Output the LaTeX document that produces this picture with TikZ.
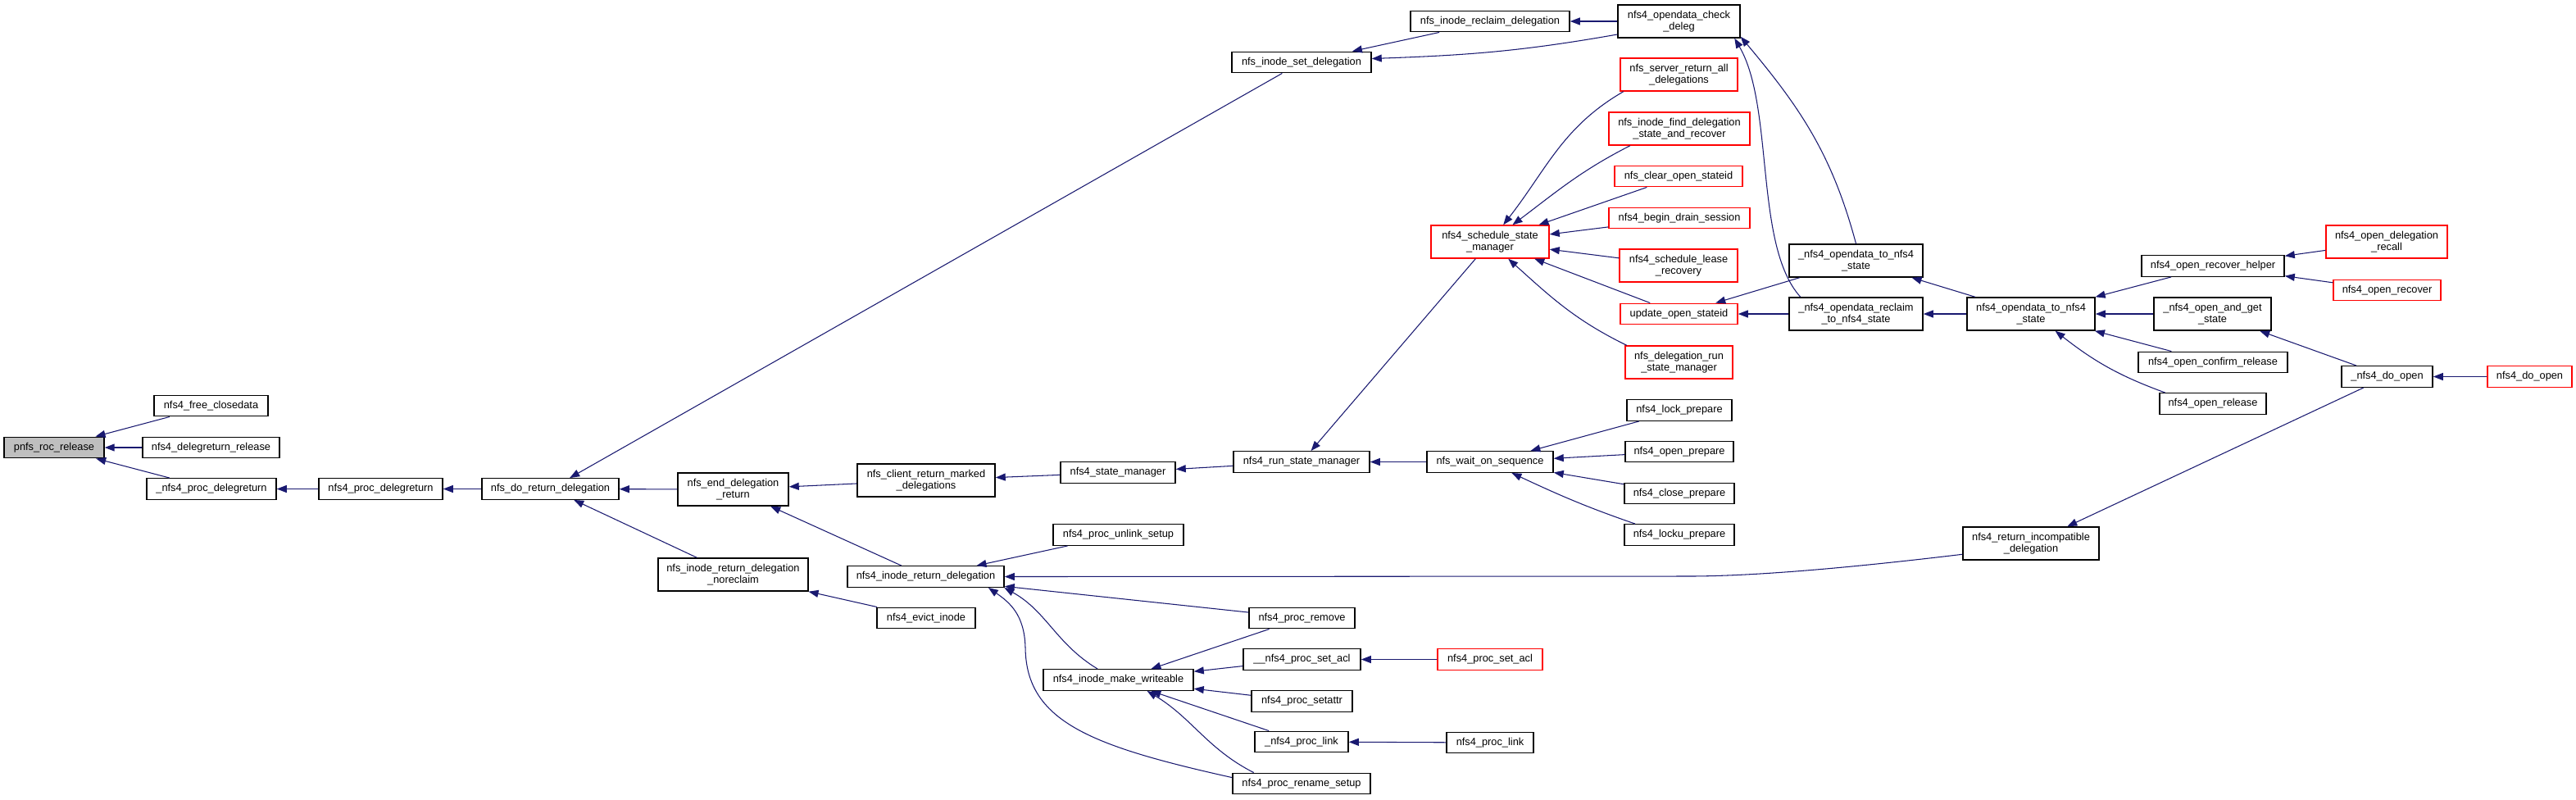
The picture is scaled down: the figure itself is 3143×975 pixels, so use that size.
\documentclass[tikz,border=0pt]{standalone}
\usepackage{fontspec}
\setmainfont{Liberation Sans}
\usetikzlibrary{arrows.meta}

\definecolor{edgeblue}{HTML}{191970}
\definecolor{hotred}{HTML}{FF0000}
\definecolor{rootgray}{HTML}{BFBFBF}

\begin{document}
\begin{tikzpicture}[x=0.01cm, y=-0.01cm, >={Triangle[length=0.12cm,width=0.09cm]},
  fn/.style={draw=black, line width=0.4pt, fill=white, inner sep=0pt, align=center,
    minimum height=0.255cm, font=\fontsize{3.64}{4}\selectfont},
  fn2/.style={fn, minimum height=0.40cm},
  hot/.style={draw=hotred},
  root/.style={fill=rootgray},
  call/.style={->, draw=edgeblue, line width=0.3pt}]

\useasboundingbox (0,0) rectangle (3143,975);

% Function being documented
\node[fn, root, minimum width=1.22cm] (rocrel) at (66,546) {pnfs\_roc\_release};

% Direct callers
\node[fn, minimum width=1.39cm] (freeclose) at (257.5,495) {nfs4\_free\_closedata};
\node[fn, minimum width=1.67cm] (delegrel) at (257.5,546) {nfs4\_delegreturn\_release};
\node[fn, minimum width=1.58cm] (uprocdeleg) at (258,596.5) {\_nfs4\_proc\_delegreturn};
\node[fn, minimum width=1.51cm] (procdeleg) at (464.5,596.5) {nfs4\_proc\_delegreturn};
\node[fn, minimum width=1.67cm] (doreturn) at (671.5,596.5) {nfs\_do\_return\_delegation};

% Delegation return layer
\node[fn2, minimum width=1.35cm] (enddeleg) at (894.5,597) {nfs\_end\_delegation\\\_return};
\node[fn2, minimum width=1.83cm] (noreclaim) at (894.5,701) {nfs\_inode\_return\_delegation\\\_noreclaim};
\node[fn2, minimum width=1.68cm] (marked) at (1130,586) {nfs\_client\_return\_marked\\\_delegations};
\node[fn, minimum width=1.91cm] (inoderet) at (1129.5,703.5) {nfs4\_inode\_return\_delegation};
\node[fn, minimum width=1.20cm] (evict) at (1130,754) {nfs4\_evict\_inode};
\node[fn, minimum width=1.40cm] (statemgr) at (1364,576.5) {nfs4\_state\_manager};
\node[fn, minimum width=1.59cm] (unlink) at (1364.5,652.5) {nfs4\_proc\_unlink\_setup};
\node[fn, minimum width=1.83cm] (writeable) at (1364.5,829.5) {nfs4\_inode\_make\_writeable};

% Middle column
\node[fn, minimum width=1.70cm] (setdeleg) at (1588,76) {nfs\_inode\_set\_delegation};
\node[fn, minimum width=1.66cm] (runmgr) at (1588,563.5) {nfs4\_run\_state\_manager};
\node[fn, minimum width=1.29cm] (remove) at (1588.5,754) {nfs4\_proc\_remove};
\node[fn, minimum width=1.43cm] (usetacl) at (1588.5,804.5) {\_\_nfs4\_proc\_set\_acl};
\node[fn, minimum width=1.23cm] (setattr) at (1588.5,855.5) {nfs4\_proc\_setattr};
\node[fn, minimum width=1.14cm] (ulink) at (1588,905) {\_nfs4\_proc\_link};
\node[fn, minimum width=1.68cm] (rename) at (1588,956) {nfs4\_proc\_rename\_setup};

\node[fn, minimum width=1.94cm] (reclaim) at (1818,26) {nfs\_inode\_reclaim\_delegation};
\node[fn2, hot, minimum width=1.44cm] (schedmgr) at (1818,295) {nfs4\_schedule\_state\\\_manager};
\node[fn, minimum width=1.54cm] (waitseq) at (1818,563.5) {nfs\_wait\_on\_sequence};
\node[fn, hot, minimum width=1.28cm] (setacl) at (1818,804.5) {nfs4\_proc\_set\_acl};
\node[fn, minimum width=1.06cm] (link) at (1818,906) {nfs4\_proc\_link};

% State manager callers
\node[fn2, minimum width=1.49cm] (checkdeleg) at (2048.5,26) {nfs4\_opendata\_check\\\_deleg};
\node[fn2, hot, minimum width=1.43cm] (retall) at (2048.5,91) {nfs\_server\_return\_all\\\_delegations};
\node[fn2, hot, minimum width=1.72cm] (finddeleg) at (2049,157) {nfs\_inode\_find\_delegation\\\_state\_and\_recover};
\node[fn, hot, minimum width=1.56cm] (clearopen) at (2048,215) {nfs\_clear\_open\_stateid};
\node[fn, hot, minimum width=1.72cm] (drain) at (2049,266) {nfs4\_begin\_drain\_session};
\node[fn2, hot, minimum width=1.44cm] (lease) at (2048,324) {nfs4\_schedule\_lease\\\_recovery};
\node[fn, hot, minimum width=1.43cm] (updopen) at (2048.5,383) {update\_open\_stateid};
\node[fn2, hot, minimum width=1.31cm] (delegrun) at (2048.5,442) {nfs\_delegation\_run\\\_state\_manager};
\node[fn, minimum width=1.28cm] (lockprep) at (2049,500.5) {nfs4\_lock\_prepare};
\node[fn, minimum width=1.32cm] (openprep) at (2049,551) {nfs4\_open\_prepare};
\node[fn, minimum width=1.34cm] (closeprep) at (2049,602) {nfs4\_close\_prepare};
\node[fn, minimum width=1.34cm] (lockuprep) at (2049,652.5) {nfs4\_locku\_prepare};

% Open path
\node[fn2, minimum width=1.63cm] (uodstate) at (2264.5,318) {\_nfs4\_opendata\_to\_nfs4\\\_state};
\node[fn2, minimum width=1.63cm] (uodreclaim) at (2264.5,383) {\_nfs4\_opendata\_reclaim\\\_to\_nfs4\_state};
\node[fn2, minimum width=1.56cm] (odstate) at (2478,383) {nfs4\_opendata\_to\_nfs4\\\_state};
\node[fn2, minimum width=1.66cm] (incompat) at (2478,663) {nfs4\_return\_incompatible\\\_delegation};
\node[fn, minimum width=1.74cm] (rechelper) at (2700,324.5) {nfs4\_open\_recover\_helper};
\node[fn2, minimum width=1.43cm] (openget) at (2699.5,383) {\_nfs4\_open\_and\_get\\\_state};
\node[fn, minimum width=1.82cm] (confirmrel) at (2700,442) {nfs4\_open\_confirm\_release};
\node[fn, minimum width=1.30cm] (openrel) at (2700,492.5) {nfs4\_open\_release};
\node[fn2, hot, minimum width=1.48cm] (delegrecall) at (2912,295) {nfs4\_open\_delegation\\\_recall};
\node[fn, hot, minimum width=1.31cm] (openrec) at (2912.5,354) {nfs4\_open\_recover};
\node[fn, minimum width=1.11cm] (udoopen) at (2912.5,459.5) {\_nfs4\_do\_open};
\node[fn, hot, minimum width=1.03cm] (doopen) at (3086.5,459.5) {nfs4\_do\_open};

% Calls into pnfs_roc_release
\draw[call] (freeclose) -- (rocrel);
\draw[call] (delegrel) -- (rocrel);
\draw[call] (uprocdeleg) -- (rocrel);
\draw[call] (procdeleg) -- (uprocdeleg);
\draw[call] (doreturn) -- (procdeleg);
\draw[call] (setdeleg) -- (doreturn);
\draw[call] (enddeleg) -- (doreturn);
\draw[call] (noreclaim) -- (doreturn);

% Set / reclaim delegation
\draw[call] (reclaim) -- (setdeleg);
\draw[call] (checkdeleg.192) to[out=190,in=2] (setdeleg.3);
\draw[call] (checkdeleg) -- (reclaim);

% State manager chain
\draw[call] (marked) -- (enddeleg);
\draw[call] (inoderet) -- (enddeleg);
\draw[call] (statemgr) -- (marked);
\draw[call] (runmgr) -- (statemgr);
\draw[call] (schedmgr) -- (runmgr);
\draw[call] (waitseq) -- (runmgr);
\draw[call] (retall.197) to[out=210,in=52] (schedmgr.52);
\draw[call] (finddeleg.199) to[out=207,in=37] (schedmgr.37);
\draw[call] (clearopen) -- (schedmgr);
\draw[call] (drain) -- (schedmgr);
\draw[call] (lease) -- (schedmgr);
\draw[call] (updopen) -- (schedmgr);
\draw[call] (delegrun.162) to[out=154,in=-42] (schedmgr.-43);

% Sequence waiters
\draw[call] (lockprep) -- (waitseq);
\draw[call] (openprep) -- (waitseq);
\draw[call] (closeprep) -- (waitseq);
\draw[call] (lockuprep.166) to[out=161,in=-25] (waitseq.-27);

% Open state
\draw[call] (uodstate) -- (updopen);
\draw[call] (uodreclaim) -- (updopen);
\draw[call] (uodstate.north) to[out=105,in=-50] (checkdeleg.-14);
\draw[call] (uodreclaim.163) .. controls (2140,300) and (2165,130) .. (checkdeleg.-17);
\draw[call] (odstate) -- (uodstate);
\draw[call] (odstate) -- (uodreclaim);
\draw[call] (rechelper) -- (odstate);
\draw[call] (openget) -- (odstate);
\draw[call] (confirmrel) -- (odstate);
\draw[call] (openrel.167) to[out=160,in=-38] (odstate.-35);
\draw[call] (delegrecall) -- (rechelper);
\draw[call] (openrec) -- (rechelper);
\draw[call] (udoopen) -- (openget);
\draw[call] (doopen) -- (udoopen);
\draw[call] (udoopen) -- (incompat);

% Inode return delegation
\draw[call] (incompat.189) .. controls (2280,690) and (2150,703) .. (2060,703) -- (inoderet.east);
\draw[call] (unlink) -- (inoderet);
\draw[call] (remove) -- (inoderet.-7);
\draw[call] (writeable.152) to[out=149,in=-29] (inoderet.-8);
\draw[call] (rename.175) .. controls (1330,910) and (1252,880) .. (1251,790)
  .. controls (1250,750) and (1232,735) .. (inoderet.-10);
\draw[call] (evict) -- (noreclaim);

% Make writeable
\draw[call] (remove) -- (writeable);
\draw[call] (usetacl) -- (writeable);
\draw[call] (setattr) -- (writeable);
\draw[call] (ulink) -- (writeable);
\draw[call] (rename.167) to[out=153,in=-31] (writeable.-21);
\draw[call] (setacl) -- (usetacl);
\draw[call] (link) -- (ulink);

\end{tikzpicture}
\end{document}
